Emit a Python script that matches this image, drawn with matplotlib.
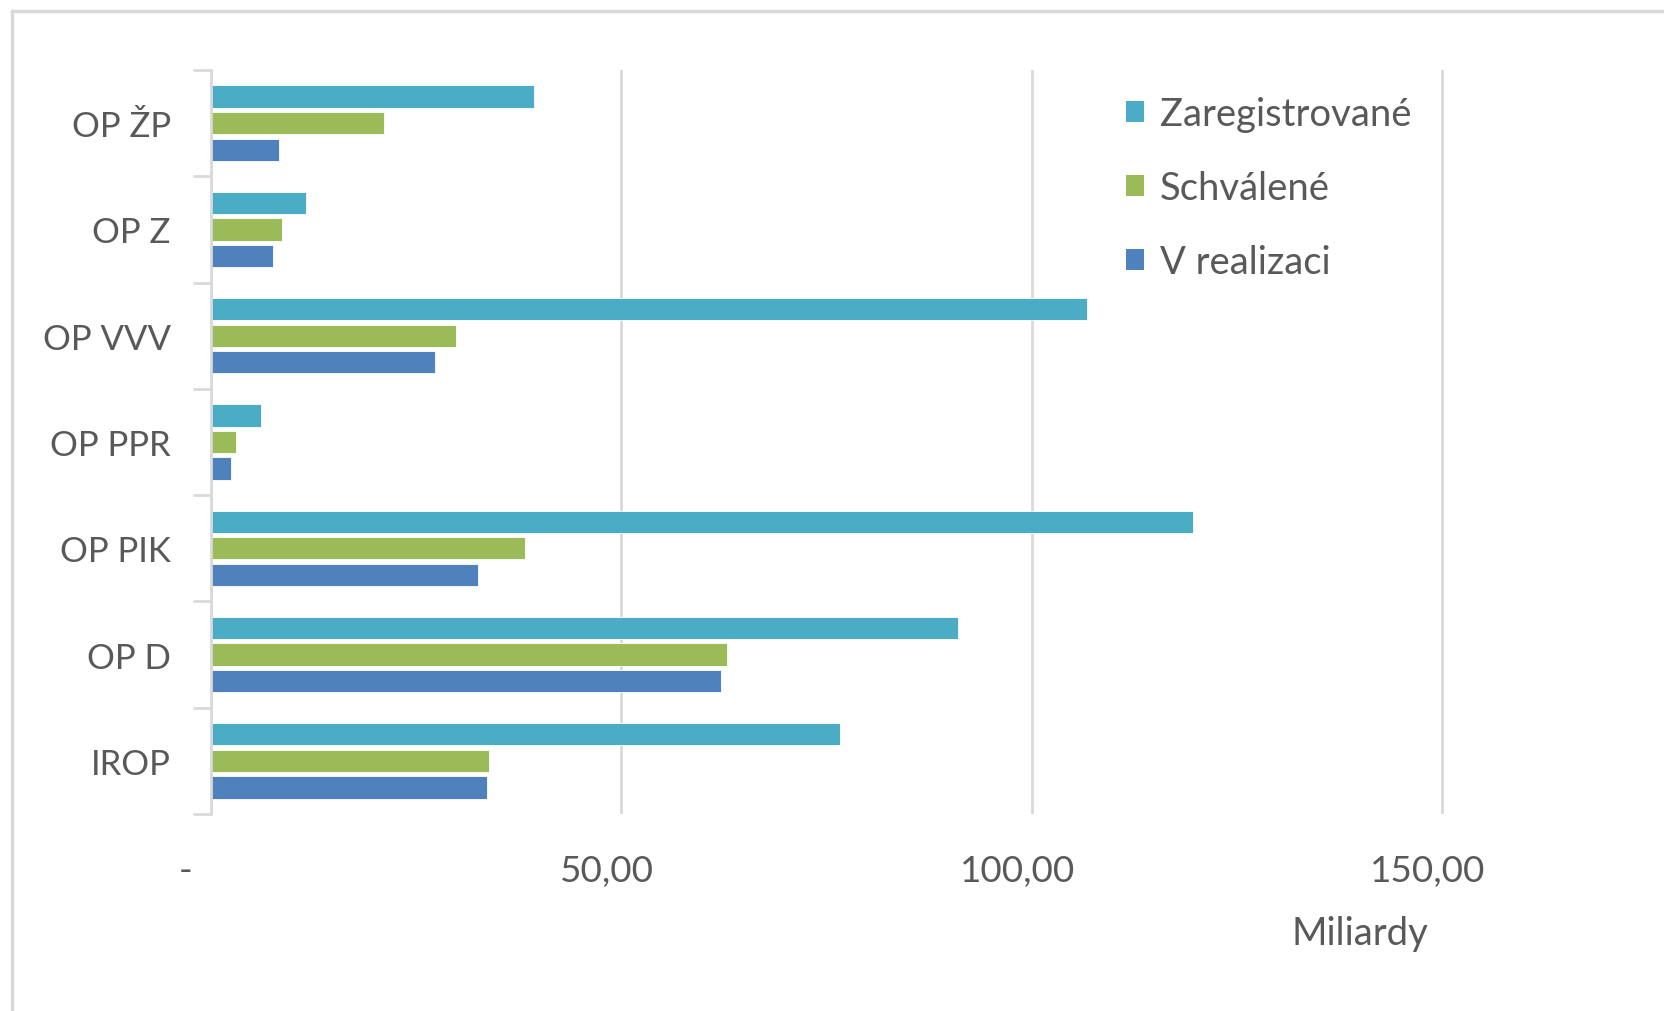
import matplotlib
matplotlib.use("Agg")
import matplotlib.pyplot as plt
import numpy as np
from matplotlib.lines import Line2D
from matplotlib.patches import Patch
from matplotlib.transforms import ScaledTranslation

categories = ["IROP", "OP D", "OP PIK", "OP PPR", "OP VVV", "OP Z", "OP ŽP"]
zaregistrovane = [76.6, 91.0, 119.6, 6.1, 106.8, 11.6, 39.3]
schvalene = [33.9, 62.9, 38.3, 3.1, 29.8, 8.6, 21.1]
v_realizaci = [33.6, 62.1, 32.5, 2.4, 27.3, 7.5, 8.3]
series_names = ["Zaregistrované", "Schválené", "V realizaci"]
xtick_values = [0, 50, 100, 150]
xtick_labels = ["-", "50,00", "100,00", "150,00"]
axis_unit_label = "Miliardy"

colors = ["#4BACC6", "#9BBB59", "#4F81BD"]
text_color = "#595959"
grid_color = "#D9D9D9"

plt.rcParams["font.family"] = ["Lato", "DejaVu Sans"]
FS_CAT = 25
FS_TICK = 26.5
FS_LEG = 27.5

W, H = 1665, 1012
fig = plt.figure(figsize=(W / 100, H / 100), dpi=100)

left_px, right_px, top_px, bottom_px = 211, W, 71, 815
ax = fig.add_axes([left_px / W, 1 - bottom_px / H, (right_px - left_px) / W, (bottom_px - top_px) / H])

y = np.arange(len(categories))
bar_h = 0.21
offs = [0.25, 0.0, -0.25]
for vals, off, c, name in zip([zaregistrovane, schvalene, v_realizaci], offs, colors, series_names):
    ax.barh(y + off, vals, height=bar_h, color=c, edgecolor="white", linewidth=0.6, label=name, zorder=3)

ax.set_ylim(-0.5, len(categories) - 0.5)
ax.set_xlim(0, (right_px - left_px) / ((1442 - 211) / 150))

# y axis: boundary ticks, centered labels
ax.set_yticks(np.arange(-0.5, len(categories), 1.0))
ax.set_yticklabels([])
ax.tick_params(axis="y", which="major", length=13, width=2, color=grid_color, direction="out")
ax.set_yticks(y, minor=True)
ax.set_yticklabels(categories, minor=True, fontsize=FS_CAT, color=text_color)
ax.tick_params(axis="y", which="minor", length=0, pad=29)

# x axis
ax.set_xticks(xtick_values)
ax.set_xticklabels(xtick_labels, fontsize=FS_TICK, color=text_color)
ax.tick_params(axis="x", length=0, pad=29)
for i, lab in enumerate(ax.get_xticklabels()):
    dx = -25 if i == 0 else -14
    lab.set_transform(lab.get_transform() + ScaledTranslation(dx / 100, 0, fig.dpi_scale_trans))

ax.grid(axis="x", color=grid_color, linewidth=2, zorder=0)
ax.set_axisbelow(True)
for s in ["top", "right", "bottom"]:
    ax.spines[s].set_visible(False)
ax.spines["left"].set_color(grid_color)
ax.spines["left"].set_linewidth(2)
ax.spines["left"].set_zorder(4)

fig.text(1360 / W, 1 - 934 / H, axis_unit_label, fontsize=FS_LEG, color=text_color, ha="center", va="center")

handles = [Patch(facecolor=c, edgecolor="none") for c in colors]
leg = fig.legend(handles, series_names, loc="upper left", bbox_to_anchor=(1126 / W, 1 - 97 / H),
                 frameon=False, fontsize=FS_LEG, handlelength=0.48, handleheight=0.48,
                 handletextpad=0.4, labelspacing=1.0, borderaxespad=0, borderpad=0)
for t in leg.get_texts():
    t.set_color(text_color)

# chart border (left and top visible)
fig.add_artist(Line2D([12 / W, 12 / W], [0, 1 - 12 / H], color=grid_color, linewidth=2.5, transform=fig.transFigure))
fig.add_artist(Line2D([12 / W, 1], [1 - 12 / H, 1 - 12 / H], color=grid_color, linewidth=2.5, transform=fig.transFigure))

fig.savefig("out.png", dpi=100, facecolor="white")
